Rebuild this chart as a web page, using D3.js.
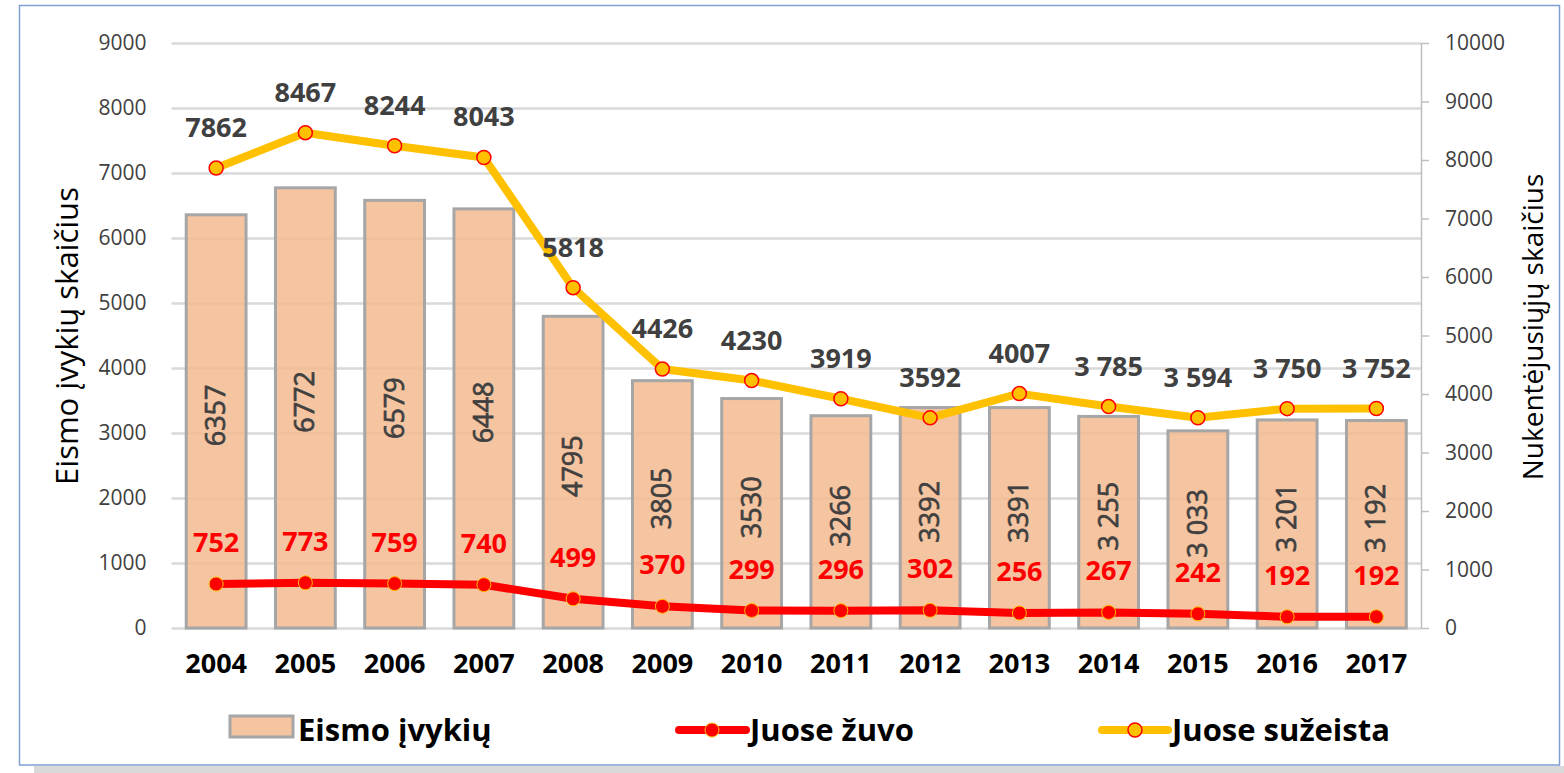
<!DOCTYPE html>
<meta charset="utf-8">
<html>
<head>
  <script src="https://d3js.org/d3.v7.min.js"></script>
  <style>
    body {
      margin: 0;
      background-color: white;
      font-family: 'Open Sans', sans-serif;
    }

    svg text {
      font-family: 'Open Sans', sans-serif;
    }

    .grid line {
      stroke: #d9d9d9;
      stroke-width: 2.5;
    }

    .grid path {
      stroke-width: 0;
    }

    .y-left text,
    .y-right text {
      font-size: 21px;
      fill: #404040;
    }

    .y-left path {
      stroke-width: 0;
    }

    .y-right path,
    .y-right line {
      stroke: #bfbfbf;
      stroke-width: 1.5;
    }

    .x-axis text {
      font-size: 27px;
      font-weight: bold;
      fill: #000;
    }

    .x-axis path {
      stroke-width: 0;
    }
  </style>
</head>

<body>
  <script>
    //Data
    var years = [2004, 2005, 2006, 2007, 2008, 2009, 2010, 2011, 2012, 2013, 2014, 2015, 2016, 2017];
    var accidents = [6357, 6772, 6579, 6448, 4795, 3805, 3530, 3266, 3392, 3391, 3255, 3033, 3201, 3192];
    var killed = [752, 773, 759, 740, 499, 370, 299, 296, 302, 256, 267, 242, 192, 192];
    var injured = [7862, 8467, 8244, 8043, 5818, 4426, 4230, 3919, 3592, 4007, 3785, 3594, 3750, 3752];
    var leftTicks = [0, 1000, 2000, 3000, 4000, 5000, 6000, 7000, 8000, 9000];
    var rightTicks = [0, 1000, 2000, 3000, 4000, 5000, 6000, 7000, 8000, 9000, 10000];
    var seriesNames = ["Eismo įvykių", "Juose žuvo", "Juose sužeista"];
    var spacedFrom = 2014; // labels from this year use a thousands space

    var data = years.map((y, i) => ({
      year: y,
      acc: accidents[i],
      kil: killed[i],
      inj: injured[i]
    }));

    function fmt(v, year) {
      return year >= spacedFrom ? d3.format(",")(v).replace(",", " ") : String(v);
    }

    var W = 1564, H = 773;
    var svg = d3.select("body")
      .append("svg")
      .attr("width", W)
      .attr("height", H);

    //Frame with shadow
    svg.append("rect")
      .attr("x", 34).attr("y", 766).attr("width", W - 34).attr("height", 7)
      .attr("fill", "#d9d9d9");
    svg.append("rect")
      .attr("x", 19.5).attr("y", 5.5).attr("width", 1540).attr("height", 759.5)
      .attr("fill", "white")
      .attr("stroke", "#7f9fd2")
      .attr("stroke-width", 1.5);

    var pLeft = 171.5, pRight = 1421, pTop = 43, pBottom = 628;

    //Scales
    var x = d3.scaleBand()
      .domain(years)
      .range([pLeft, pRight])
      .paddingInner(0.33)
      .paddingOuter(0.165);

    var yL = d3.scaleLinear().domain([0, 9000]).range([pBottom, pTop]);
    var yR = d3.scaleLinear().domain([0, 10000]).range([pBottom, pTop]);

    //Grid
    svg.append("g")
      .attr("class", "grid")
      .attr("transform", `translate(${pLeft}, 0)`)
      .call(d3.axisLeft(yL).tickValues(leftTicks).tickSize(-(pRight - pLeft)).tickFormat(""));

    //Left axis
    svg.append("g")
      .attr("class", "y-left")
      .attr("transform", `translate(${pLeft}, 0)`)
      .call(d3.axisLeft(yL).tickValues(leftTicks).tickSize(0).tickPadding(25).tickFormat(d3.format("d")));

    //Right axis
    svg.append("g")
      .attr("class", "y-right")
      .attr("transform", `translate(${pRight}, 0)`)
      .call(d3.axisRight(yR).tickValues(rightTicks).tickSize(8).tickSizeOuter(0).tickPadding(16).tickFormat(d3.format("d")));

    //X axis
    svg.append("g")
      .attr("class", "x-axis")
      .attr("transform", `translate(0, ${pBottom})`)
      .call(d3.axisBottom(x).tickSize(0).tickPadding(26));

    //Bars
    svg.selectAll("rect.bar")
      .data(data)
      .enter()
      .append("rect")
      .attr("class", "bar")
      .attr("x", d => x(d.year))
      .attr("y", d => yL(d.acc))
      .attr("width", x.bandwidth())
      .attr("height", d => pBottom - yL(d.acc))
      .attr("fill", "#f3ba8f")
      .attr("fill-opacity", 0.85)
      .attr("stroke", "#a6a6a6")
      .attr("stroke-width", 3);

    //Bar labels (slightly heavier than regular)
    svg.selectAll("text.bar-label")
      .data(data)
      .enter()
      .append("text")
      .attr("class", "bar-label")
      .attr("transform", d => `translate(${x(d.year) + x.bandwidth() / 2 + 9}, ${(yL(d.acc) + pBottom) / 2 - 6}) rotate(-90)`)
      .attr("text-anchor", "middle")
      .attr("font-size", 27)
      .attr("fill", "#404040")
      .attr("stroke", "#404040")
      .attr("stroke-width", 0.7)
      .text(d => fmt(d.acc, d.year));

    var cx = d => x(d.year) + x.bandwidth() / 2;

    //Lines
    var lineInj = d3.line().x(cx).y(d => yR(d.inj));
    var lineKil = d3.line().x(cx).y(d => yR(d.kil));

    svg.append("path")
      .datum(data)
      .attr("d", lineInj)
      .attr("fill", "none")
      .attr("stroke", "#ffc000")
      .attr("stroke-width", 8)
      .attr("stroke-linejoin", "round");

    svg.append("path")
      .datum(data)
      .attr("d", lineKil)
      .attr("fill", "none")
      .attr("stroke", "#ff0000")
      .attr("stroke-width", 8)
      .attr("stroke-linejoin", "round");

    //Markers
    svg.selectAll("circle.inj")
      .data(data)
      .enter()
      .append("circle")
      .attr("class", "inj")
      .attr("cx", cx)
      .attr("cy", d => yR(d.inj))
      .attr("r", 7)
      .attr("fill", "#ffc000")
      .attr("stroke", "#ff0000")
      .attr("stroke-width", 1.5);

    svg.selectAll("circle.kil")
      .data(data)
      .enter()
      .append("circle")
      .attr("class", "kil")
      .attr("cx", cx)
      .attr("cy", d => yR(d.kil))
      .attr("r", 7)
      .attr("fill", "#ff0000")
      .attr("stroke", "#ffc000")
      .attr("stroke-width", 1);

    //Line labels
    svg.selectAll("text.inj-label")
      .data(data)
      .enter()
      .append("text")
      .attr("class", "inj-label")
      .attr("x", cx)
      .attr("y", d => yR(d.inj) - 31)
      .attr("text-anchor", "middle")
      .attr("font-size", 27)
      .attr("font-weight", "bold")
      .attr("fill", "#404040")
      .text(d => fmt(d.inj, d.year));

    svg.selectAll("text.kil-label")
      .data(data)
      .enter()
      .append("text")
      .attr("class", "kil-label")
      .attr("x", cx)
      .attr("y", d => yR(d.kil) - 32)
      .attr("text-anchor", "middle")
      .attr("font-size", 27)
      .attr("font-weight", "bold")
      .attr("fill", "#ff0000")
      .text(d => fmt(d.kil, d.year));

    //Axis titles
    svg.append("text")
      .attr("transform", "translate(78, 336) rotate(-90)")
      .attr("text-anchor", "middle")
      .attr("font-size", 31)
      .attr("fill", "#000")
      .text("Eismo įvykių skaičius");

    svg.append("text")
      .attr("transform", "translate(1543, 327) rotate(-90)")
      .attr("text-anchor", "middle")
      .attr("font-size", 28)
      .attr("fill", "#000")
      .text("Nukentėjusiųjų skaičius");

    //Legend
    var legY = 730;
    var leg = svg.append("g").attr("class", "legend");

    leg.append("rect")
      .attr("x", 230).attr("y", legY - 14).attr("width", 63).attr("height", 21)
      .attr("fill", "#f3ba8f").attr("fill-opacity", 0.85)
      .attr("stroke", "#a6a6a6").attr("stroke-width", 3);

    leg.append("line")
      .attr("x1", 679).attr("x2", 746).attr("y1", legY).attr("y2", legY)
      .attr("stroke", "#ff0000").attr("stroke-width", 8).attr("stroke-linecap", "round");
    leg.append("circle")
      .attr("cx", 712).attr("cy", legY).attr("r", 7)
      .attr("fill", "#ff0000").attr("stroke", "#ffc000").attr("stroke-width", 1);

    leg.append("line")
      .attr("x1", 1102).attr("x2", 1168).attr("y1", legY).attr("y2", legY)
      .attr("stroke", "#ffc000").attr("stroke-width", 8).attr("stroke-linecap", "round");
    leg.append("circle")
      .attr("cx", 1135).attr("cy", legY).attr("r", 7)
      .attr("fill", "#ffc000").attr("stroke", "#ff0000").attr("stroke-width", 1.5);

    var legX = [298, 750, 1172];
    leg.selectAll("text")
      .data(seriesNames)
      .enter()
      .append("text")
      .attr("x", (d, i) => legX[i])
      .attr("y", legY + 11)
      .attr("font-size", 31)
      .attr("font-weight", "bold")
      .attr("fill", "#000")
      .text(d => d);
  </script>
</body>
</html>
